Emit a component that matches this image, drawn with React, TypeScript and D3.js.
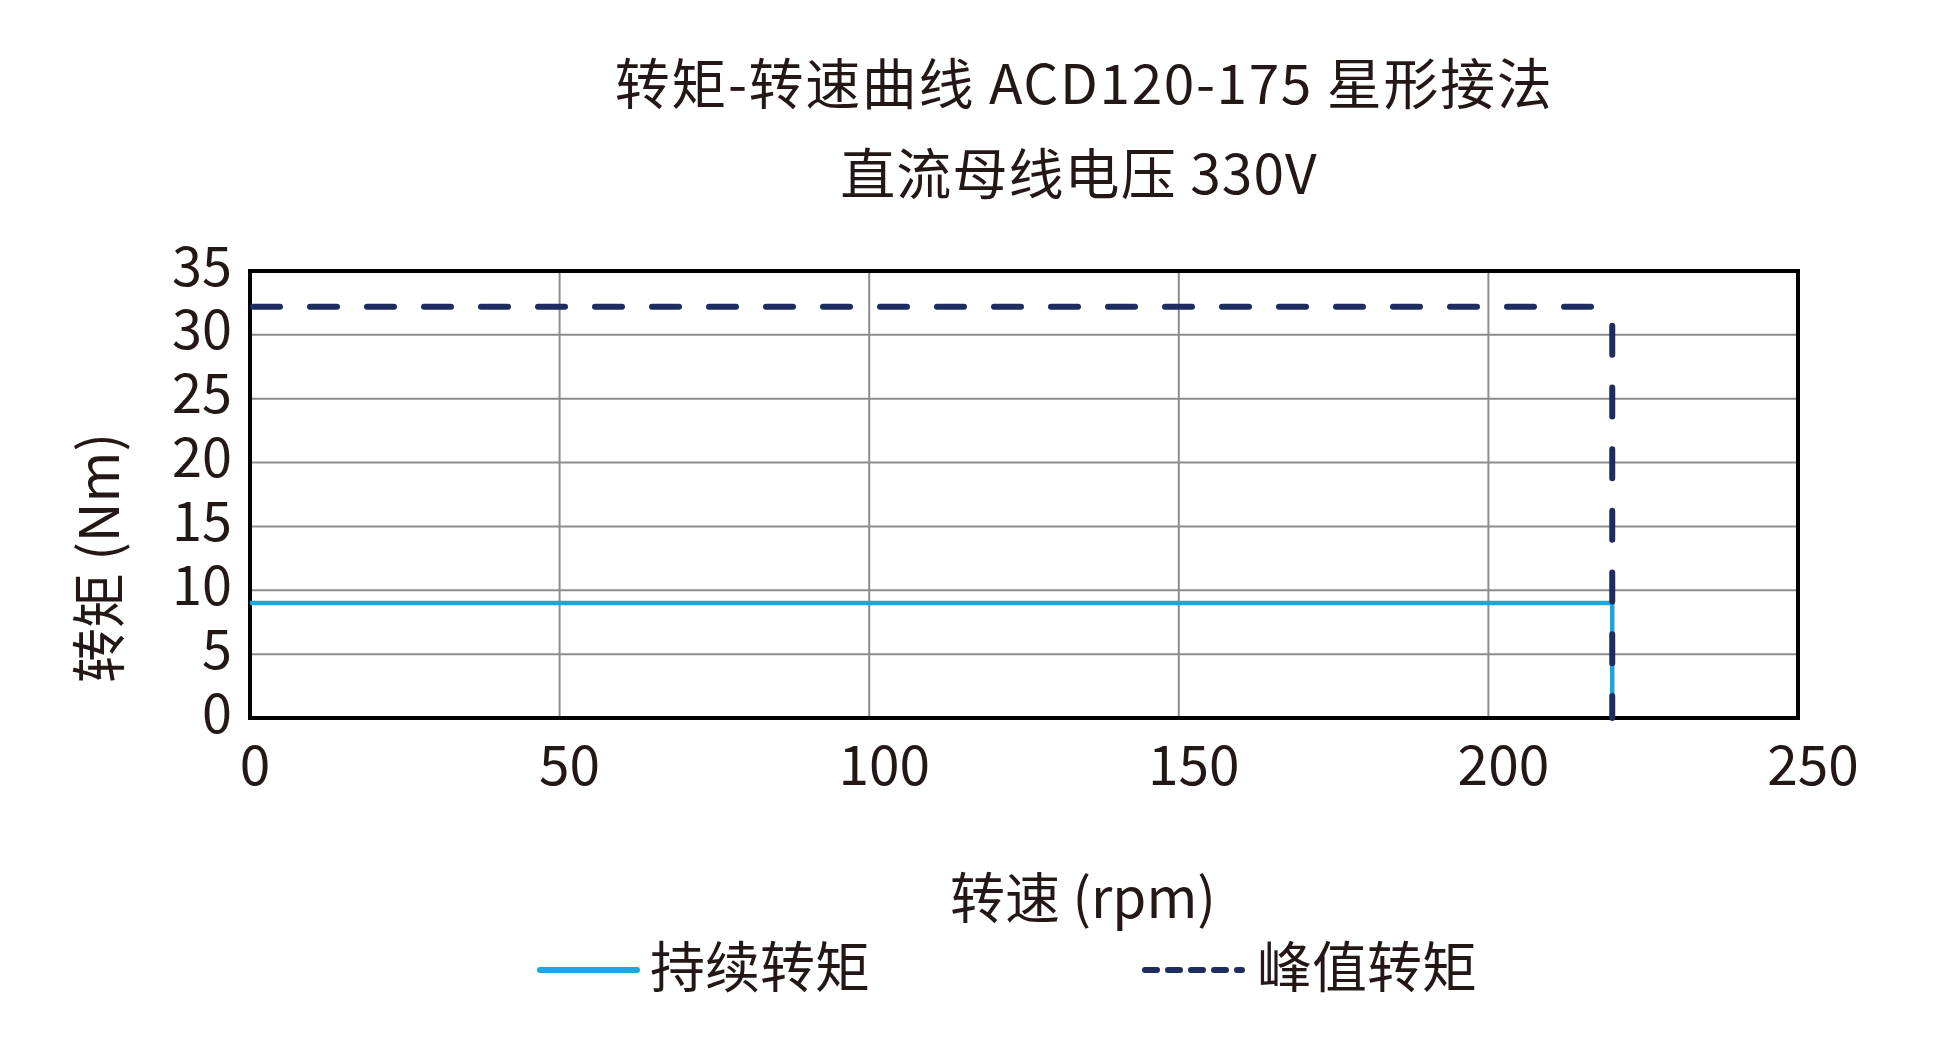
import React from "react";
import * as d3 from "d3";

const titleLines = ["转矩-转速曲线 ACD120-175 星形接法", "直流母线电压 330V"];
const xTicks = [0, 50, 100, 150, 200, 250];
const yTicks = [0, 5, 10, 15, 20, 25, 30, 35];
const xLabel = "转速 (rpm)";
const yLabel = "转矩 (Nm)";
const continuousName = "持续转矩";
const peakName = "峰值转矩";
const continuousSpeed = [0, 220, 220];
const continuousTorque = [9, 9, 0];
const peakSpeed = [0, 220, 220];
const peakTorque = [32.2, 32.2, 0];

const W = 1950;
const H = 1060;
const FONT = "'Noto Sans CJK SC', 'Noto Sans', sans-serif";
const TEXT = "#231815";
const BLUE = "#1da6dc";
const NAVY = "#1e2d5f";
const GRID = "#8d8d8d";

export default function App() {
  const x = d3.scaleLinear().domain([0, 250]).range([250, 1798]);
  const y = d3.scaleLinear().domain([0, 35]).range([718, 271]);

  const contPts: [number, number][] = continuousSpeed.map((s, i) => [x(s), y(continuousTorque[i])]);
  const peakPts: [number, number][] = peakSpeed.map((s, i) => [x(s), y(peakTorque[i])]);
  const line = d3.line();

  const peakSegs = peakPts.slice(1).map((p, i) => [peakPts[i], p] as [number, number][]);

  return (
    <svg
      width={W}
      height={H}
      style={{ position: "absolute", left: 0, top: 0, background: "#fff" }}
      fontFamily={FONT}
    >
      <rect x={0} y={0} width={W} height={H} fill="#fff" />
      {titleLines.map((t, i) => (
        <text
          key={t}
          x={i === 0 ? 1084 : 1079}
          y={i === 0 ? 80 : 170}
          fontSize={55}
          fill={TEXT}
          textAnchor="middle"
          dominantBaseline="central"
          letterSpacing={i === 0 ? 1.6 : 1.1}
        >
          {t}
        </text>
      ))}

      {/* grid */}
      {yTicks.slice(1, -1).map((v) => (
        <line key={"gy" + v} x1={x(0)} x2={x(250)} y1={y(v)} y2={y(v)} stroke={GRID} strokeWidth={2} />
      ))}
      {xTicks.slice(1, -1).map((v) => (
        <line key={"gx" + v} x1={x(v)} x2={x(v)} y1={y(0)} y2={y(35)} stroke={GRID} strokeWidth={2} />
      ))}
      <rect
        x={x(0)}
        y={y(35)}
        width={x(250) - x(0)}
        height={y(0) - y(35)}
        fill="none"
        stroke="#000"
        strokeWidth={4}
      />

      {/* series */}
      <path d={line(contPts) || ""} fill="none" stroke={BLUE} strokeWidth={4.5} />
      {peakSegs.map((seg, i) => {
        const horizontal = Math.abs(seg[0][1] - seg[1][1]) < 0.5;
        return (
          <path
            key={"ps" + i}
            d={line(seg) || ""}
            fill="none"
            stroke={NAVY}
            strokeWidth={6}
            strokeLinecap="round"
            strokeDasharray={horizontal ? "27 30" : "29 32.7"}
            strokeDashoffset={horizontal ? 54 : 42.7}
          />
        );
      })}

      {/* y ticks */}
      {yTicks.map((v) => (
        <text
          key={"yt" + v}
          x={232}
          y={y(v) - 9}
          fontSize={54}
          fill={TEXT}
          textAnchor="end"
          dominantBaseline="central"
        >
          {v}
        </text>
      ))}
      {xTicks.map((v) => (
        <text
          key={"xt" + v}
          x={x(v) + 5 * String(v).length}
          y={761}
          fontSize={55}
          fill={TEXT}
          textAnchor="middle"
          dominantBaseline="central"
        >
          {v}
        </text>
      ))}

      <text x={1083} y={894} fontSize={55} fill={TEXT} textAnchor="middle" dominantBaseline="central">
        {xLabel}
      </text>
      <text
        transform="translate(95,558) rotate(-90)"
        fontSize={55}
        fill={TEXT}
        textAnchor="middle"
        dominantBaseline="central"
      >
        {yLabel}
      </text>

      {/* legend */}
      <line x1={540} x2={637} y1={970} y2={970} stroke={BLUE} strokeWidth={6} strokeLinecap="round" />
      <text x={650} y={963} fontSize={55} fill={TEXT} dominantBaseline="central">
        {continuousName}
      </text>
      <line
        x1={1145}
        x2={1242}
        y1={970}
        y2={970}
        stroke={NAVY}
        strokeWidth={6}
        strokeLinecap="round"
        strokeDasharray="12 11"
      />
      <text x={1257} y={963} fontSize={55} fill={TEXT} dominantBaseline="central">
        {peakName}
      </text>
    </svg>
  );
}
